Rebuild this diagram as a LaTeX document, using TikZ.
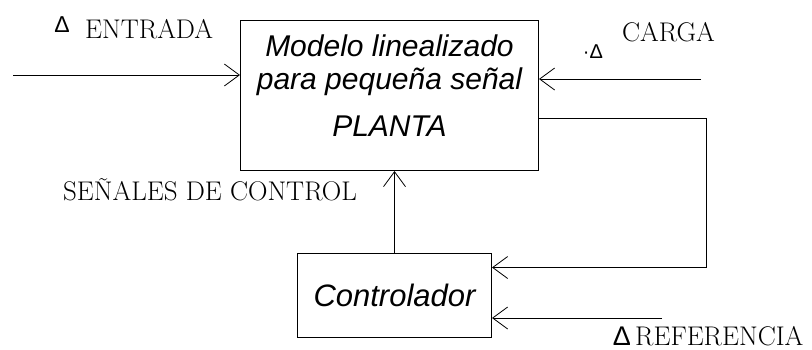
\documentclass[tikz,border=0pt]{standalone}
\usepackage{fontspec}
\newfontfamily\arialfont{Liberation Sans}
\usetikzlibrary{arrows.meta}

\begin{document}
\begin{tikzpicture}[
  x=1pt, y=-1pt,
  block/.style={rectangle, draw=black, line width=1pt, align=center, inner sep=0pt},
  flow/.style={-{Straight Barb[length=15pt, width=22pt, line width=0.8pt]}, line width=1pt},
  tag/.style={font=\fontsize{27}{30}\selectfont, inner sep=0pt, anchor=base west},
  delta/.style={inner sep=0pt, anchor=base},
]
  \useasboundingbox (0,0) rectangle (812,349);
  % blocks
  \node[block, anchor=north west, minimum width=298pt, minimum height=150pt,
    font=\arialfont\itshape\fontsize{30}{33}\selectfont, text depth=20pt]
    (plant) at (240,20) {Modelo linealizado\\para pequeña señal\\[14pt]PLANTA};
  \node[block, anchor=north west, minimum width=194pt, minimum height=84pt,
    font=\arialfont\itshape\fontsize{31}{33}\selectfont]
    (ctrl) at (297,253) {Controlador};
  % free ends
  \coordinate (inEnt) at (13,75);
  \coordinate (inCarga) at (701,79);
  \coordinate (fbCorner) at (706,118);
  \coordinate (inRef) at (662,318);
  % connectors
  \draw[flow] (inEnt) -- (plant.west |- inEnt);
  \draw[flow] (inCarga) -- (plant.east |- inCarga);
  \draw[flow] (plant.east |- fbCorner) -- (fbCorner) |- ([yshift=28pt]ctrl.east);
  \draw[flow] (inRef) -- (ctrl.east |- inRef);
  \draw[flow] (ctrl.north) -- (ctrl.north |- plant.south);
  % labels
  \node[delta, font=\arialfont\fontsize{23}{24}\selectfont] (dEnt) at (62,32) {Δ};
  \node[tag] (tEnt) at (85,38) {ENTRADA};
  \node[delta, font=\arialfont\fontsize{20}{22}\selectfont] (dCarga) at (593,58) {·Δ};
  \node[tag] (tCarga) at (622,41) {CARGA};
  \node[tag] (tCtrl) at (63,200) {SEÑALES DE CONTROL};
  \node[delta, font=\arialfont\fontsize{27}{28}\selectfont] (dRef) at (622,345) {Δ};
  \node[tag] (tRef) at (635,345) {REFERENCIA};
\end{tikzpicture}
\end{document}
